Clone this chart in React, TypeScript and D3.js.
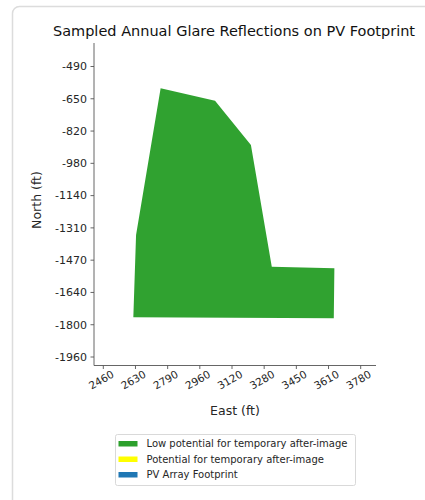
import React from "react";
import * as d3 from "d3";

const title = "Sampled Annual Glare Reflections on PV Footprint";
const xTickLabels = ["2460", "2630", "2790", "2960", "3120", "3280", "3450", "3610", "3780"];
const yTickLabels = ["-490", "-650", "-820", "-980", "-1140", "-1310", "-1470", "-1640", "-1800", "-1960"];
const footprintEast = [2754, 3033, 3217, 3324, 3645, 3642, 2614, 2628];
const footprintNorth = [-600, -663, -887, -1503, -1511, -1764, -1759, -1343];
const legendLabels = ["Low potential for temporary after-image", "Potential for temporary after-image", "PV Array Footprint"];
const legendColors = ["#2ca02c", "#ffff00", "#1f77b4"];

const FONT = "DejaVu Sans, sans-serif";

export default function App() {
  const W = 425, H = 500;
  const left = 94, right = 376, top = 43, bottom = 365.5;
  const xFirst = 2460, xLast = 3780;
  const yFirst = -490, yLast = -1960;
  const x = d3.scaleLinear().domain([xFirst, xLast]).range([103.3, 360.7]);
  const y = d3.scaleLinear().domain([yFirst, yLast]).range([66.5, 357]);
  const xTicks = d3.range(xTickLabels.length).map(i => xFirst + (i * (xLast - xFirst)) / (xTickLabels.length - 1));
  const yTicks = d3.range(yTickLabels.length).map(i => yFirst + (i * (yLast - yFirst)) / (yTickLabels.length - 1));
  const pts: [number, number][] = footprintEast.map((e, i) => [x(e), y(footprintNorth[i])]);
  const line = d3.line().curve(d3.curveLinearClosed);
  const axisColor = "#555";
  const textColor = "#262626";
  return (
    <svg width={W} height={H} style={{ position: "absolute", left: 0, top: 0, background: "#fff" }}>
      <rect x={12.5} y={6.5} width={W + 20} height={H + 20} rx={7} fill="#fff" stroke="#dcdcdc" strokeWidth={1.5} />
      <text x={234} y={36} textAnchor="middle" fontFamily={FONT} fontSize={14.5} fill="#111">{title}</text>
      <path d={line(pts) || ""} fill={legendColors[0]} fillOpacity={0.98} />
      <line x1={left} x2={left} y1={top} y2={bottom} stroke={axisColor} strokeWidth={0.9} />
      <line x1={left} x2={right} y1={bottom} y2={bottom} stroke={axisColor} strokeWidth={0.9} />
      {yTicks.map((v, i) => (
        <g key={"y" + i}>
          <line x1={left - 3.5} x2={left} y1={y(v)} y2={y(v)} stroke={axisColor} strokeWidth={0.9} />
          <text x={left - 7} y={y(v)} dy="0.35em" textAnchor="end" fontFamily={FONT} fontSize={11} fill={textColor}>{yTickLabels[i]}</text>
        </g>
      ))}
      {xTicks.map((v, i) => (
        <g key={"x" + i}>
          <line x1={x(v)} x2={x(v)} y1={bottom} y2={bottom + 3.5} stroke={axisColor} strokeWidth={0.9} />
          <text transform={`translate(${x(v) - 2},${bottom + 14.5}) rotate(-30)`} textAnchor="middle" dy="0.35em" fontFamily={FONT} fontSize={10.5} fill={textColor}>{xTickLabels[i]}</text>
        </g>
      ))}
      <text x={235} y={415} textAnchor="middle" fontFamily={FONT} fontSize={12.5} fill={textColor}>East (ft)</text>
      <text transform={`translate(41,200) rotate(-90)`} textAnchor="middle" fontFamily={FONT} fontSize={12.5} fill={textColor}>North (ft)</text>
      <rect x={115.5} y={434.5} width={240} height={51} rx={2} fill="#fff" stroke="#d9d9d9" strokeWidth={1} />
      {legendLabels.map((lab, i) => (
        <g key={"l" + i}>
          <rect x={118.5} y={441 + i * 15.5} width={19} height={5.5} fill={legendColors[i]} />
          <text x={146.5} y={443.8 + i * 15.5} dy="0.35em" fontFamily={FONT} fontSize={10} fill={textColor}>{lab}</text>
        </g>
      ))}
    </svg>
  );
}
